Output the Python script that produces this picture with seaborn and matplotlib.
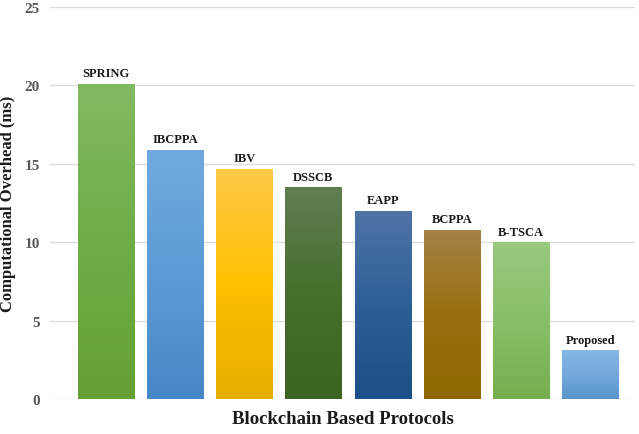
import numpy as np
import pandas as pd
import matplotlib
matplotlib.use("Agg")
import matplotlib.pyplot as plt
import seaborn as sns
from matplotlib.colors import LinearSegmentedColormap

protocols = ["SPRING", "IBCPPA", "IBV", "DSSCB", "EAPP", "BCPPA", "B-TSCA", "Proposed"]
overhead_ms = [20.1, 15.9, 14.7, 13.5, 12.0, 10.8, 10.0, 3.1]

# (top, middle, bottom) gradient stops per bar
gradients = [
    ("#82ba62", "#70ad47", "#64a035"),
    ("#72aae0", "#5b9bd5", "#4887c6"),
    ("#ffc94a", "#ffc000", "#e6ae00"),
    ("#607e52", "#456f2c", "#3a6420"),
    ("#4f74a6", "#2e5f98", "#1c5088"),
    ("#a48246", "#996e10", "#8f6800"),
    ("#97c97e", "#89bf68", "#76ae4e"),
    ("#86b8e3", "#74a8dc", "#5894cb"),
]

df = pd.DataFrame({"protocol": protocols, "overhead": overhead_ms})

sns.set_theme(style="white")
plt.rcParams["font.family"] = ["Liberation Serif", "DejaVu Serif"]

fig = plt.figure(figsize=(6.39, 4.35), dpi=100)
ax = fig.add_axes([0.078, 0.0805, 0.916, 0.901])

sns.barplot(data=df, x="protocol", y="overhead", hue="protocol",
            palette=[g[1] for g in gradients], width=0.81,
            legend=False, ax=ax, zorder=2)

# vertical gradient fill clipped to each bar
for patch, stops in zip(ax.patches, gradients):
    x0, y0 = patch.get_x(), patch.get_y()
    w, h = patch.get_width(), patch.get_height()
    cmap = LinearSegmentedColormap.from_list("g", [stops[2], stops[1], stops[0]])
    grad = np.linspace(0, 1, 256).reshape(-1, 1)
    img = ax.imshow(grad, cmap=cmap, origin="lower", aspect="auto",
                    extent=[x0, x0 + w, y0, y0 + h], zorder=3)
    img.set_clip_path(patch)
    patch.set_edgecolor("none")

for i, v in enumerate(overhead_ms):
    ax.text(i, v + 0.3, protocols[i], ha="center", va="bottom",
            fontsize=9, fontweight="bold", color="#1a1a1a", zorder=4)

ax.set_xlim(-0.81, 7.65)
ax.set_ylim(0, 25)
ax.set_yticks([0, 5, 10, 15, 20, 25])
ax.yaxis.grid(True, color="#dcdcdc", linewidth=1.0, zorder=0)
ax.set_axisbelow(True)
ax.set_xticks([])
for s in ax.spines.values():
    s.set_visible(False)

ax.tick_params(axis="y", length=0, pad=7, labelsize=11, labelcolor="#595959")
for lbl in ax.get_yticklabels():
    lbl.set_fontweight("bold")

ax.set_ylabel("Computational Overhead (ms)", fontsize=12,
              fontweight="bold", color="#1a1a1a", labelpad=6)
ax.set_xlabel("Blockchain Based Protocols", fontsize=13.5,
              fontweight="bold", color="#1a1a1a", labelpad=8)

fig.savefig("out.png", dpi=100)
